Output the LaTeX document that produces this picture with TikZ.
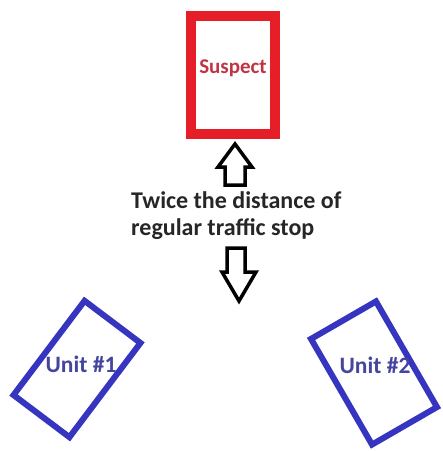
\documentclass[tikz,border=0pt]{standalone}
\usepackage{fontspec}
\setmainfont{Carlito}
\definecolor{boxred}{HTML}{E61E28}
\definecolor{txtred}{HTML}{C03545}
\definecolor{boxblue}{HTML}{3535C0}
\definecolor{txtblue}{HTML}{4545A0}
\begin{document}
\begin{tikzpicture}[x=1pt,y=-1pt,
  suspectbox/.style={draw=boxred,line width=10pt,minimum width=84pt,minimum height=118pt,inner sep=0pt},
  unitbox/.style={draw=boxblue,line width=6pt,inner sep=0pt},
  susplabel/.style={font=\fontsize{21}{24}\selectfont\bfseries,text=txtred,inner sep=0pt},
  unitlabel/.style={font=\fontsize{23.5}{26}\selectfont\bfseries,text=txtblue,inner sep=0pt},
  bigarrow/.style={draw=black,line width=3.5pt,fill=white,line join=miter},
  note/.style={font=\fontsize{24}{27}\selectfont\bfseries,align=left,text=black!85,inner sep=0pt,anchor=base west}
]
\useasboundingbox (0,0) rectangle (443,451);
\fill[white] (0,0) rectangle (443,451);
% suspect
\node[suspectbox] (suspect) at (233,75) {};
\node[susplabel] (slabel) at (233,68) {Suspect};
% units
\node[unitbox,minimum width=70pt,minimum height=118pt,rotate=-37] (unit1) at (77,369) {};
\node[unitlabel] (u1label) at (81,364) {Unit \#1};
\node[unitbox,minimum width=75pt,minimum height=122pt,rotate=30] (unit2) at (374,373) {};
\node[unitlabel] (u2label) at (375,365) {Unit \#2};
% text
\node[note] (note) at (131,235) {Twice the distance of\\regular traffic stop};
% arrows
\coordinate (uptip) at (235,144);
\draw[bigarrow] (uptip) -- (252,167) -- (245,167) -- (245,185) -- (225,185) -- (225,167) -- (218,167) -- cycle;
\coordinate (downtip) at (239,301);
\draw[bigarrow] (downtip) -- (256,272) -- (245,272) -- (245,248) -- (227,248) -- (227,272) -- (222,272) -- cycle;
\end{tikzpicture}
\end{document}
